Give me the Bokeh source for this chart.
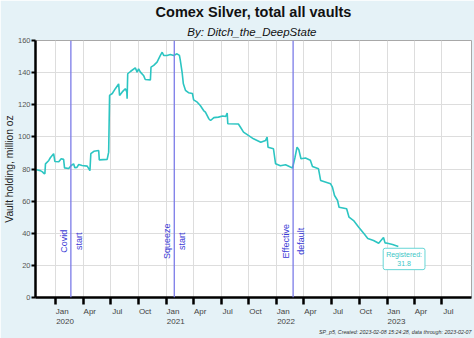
import math
import pandas as pd
from bokeh.plotting import figure
from bokeh.models import (Range1d, FixedTicker, Span, Label, ColumnDataSource, Title,
                          DatetimeAxis)
from bokeh.core.properties import value
from bokeh.embed import file_html
from bokeh.resources import INLINE

# ---------------- data ----------------
dates = [
    "2019-10-29", "2019-11-11", "2019-11-18", "2019-11-23", "2019-11-26", "2019-11-28",
    "2019-12-09", "2019-12-14", "2019-12-25", "2019-12-29", "2020-01-11", "2020-01-19",
    "2020-01-27", "2020-01-30", "2020-02-13", "2020-02-21", "2020-02-29", "2020-03-04",
    "2020-03-11", "2020-03-17", "2020-03-28", "2020-04-14", "2020-04-23", "2020-04-26",
    "2020-05-06", "2020-05-22", "2020-05-24", "2020-06-19", "2020-06-24", "2020-06-27",
    "2020-07-06", "2020-07-16", "2020-07-27", "2020-07-30", "2020-08-08", "2020-08-18",
    "2020-08-23", "2020-08-24", "2020-08-26", "2020-09-04", "2020-09-20", "2020-09-26",
    "2020-10-01", "2020-10-07", "2020-10-18", "2020-10-23", "2020-11-09", "2020-11-11",
    "2020-11-20", "2020-12-01", "2020-12-12", "2020-12-18", "2020-12-23", "2021-01-03",
    "2021-01-14", "2021-01-25", "2021-02-05", "2021-02-13", "2021-02-16", "2021-02-22",
    "2021-02-26", "2021-03-05", "2021-03-15", "2021-03-28", "2021-04-01", "2021-04-13",
    "2021-04-23", "2021-05-04", "2021-05-10", "2021-05-21", "2021-05-27", "2021-06-07",
    "2021-06-22", "2021-07-06", "2021-07-16", "2021-07-21", "2021-07-23", "2021-08-27",
    "2021-09-03", "2021-09-13", "2021-09-29", "2021-10-16", "2021-11-09", "2021-11-25",
    "2021-11-30", "2021-12-03", "2021-12-21", "2021-12-28", "2022-01-13", "2022-01-30",
    "2022-02-15", "2022-02-22", "2022-03-02", "2022-03-09", "2022-03-15", "2022-03-22",
    "2022-04-06", "2022-04-22", "2022-04-29", "2022-05-19", "2022-05-26", "2022-06-28",
    "2022-07-04", "2022-07-11", "2022-07-21", "2022-07-26", "2022-08-20", "2022-08-28",
    "2022-09-12", "2022-09-29", "2022-10-16", "2022-10-29", "2022-11-17", "2022-12-04",
    "2022-12-20", "2022-12-25", "2023-01-02", "2023-01-19", "2023-02-07",
]
values = [
    79.5, 79.0, 78.2, 77.2, 77.0, 83.2,
    85.3, 87.0, 89.5, 84.7, 84.5, 86.4,
    86.0, 80.7, 80.3, 82.2, 83.2, 80.8,
    81.0, 82.8, 82.2, 81.8, 79.0, 89.5,
    91.0, 91.5, 85.7, 86.0, 90.5, 125.8,
    127.0, 130.0, 133.0, 125.8, 128.0, 130.0,
    128.0, 123.7, 139.3, 140.7, 143.0, 140.3,
    142.4, 140.3, 138.0, 135.7, 135.5, 143.4,
    144.5, 146.5, 150.7, 152.7, 150.7, 150.7,
    151.3, 150.7, 151.7, 150.7, 147.6, 140.0,
    133.0, 129.0, 127.5, 127.0, 123.0, 121.6,
    119.5, 116.4, 115.4, 111.3, 110.2, 112.0,
    112.3, 113.0, 112.7, 114.8, 108.2, 108.0,
    106.0, 103.0, 100.9, 98.8, 96.7, 97.8,
    99.8, 93.6, 92.6, 83.2, 82.0, 82.6,
    81.2, 80.6, 87.0, 93.6, 92.0, 86.4,
    86.8, 85.5, 81.5, 80.1, 72.9, 70.8,
    68.7, 63.5, 60.4, 56.2, 55.2, 50.0,
    47.9, 43.8, 39.8, 36.7, 35.5, 33.8,
    37.4, 34.0, 33.8, 33.0, 31.8,
]

tick_dates = [
    "2020-01-01", "2020-04-01", "2020-07-01", "2020-10-01",
    "2021-01-01", "2021-04-01", "2021-07-01", "2021-10-01",
    "2022-01-01", "2022-04-01", "2022-07-01", "2022-10-01",
    "2023-01-01", "2023-04-01", "2023-07-01",
]
tick_labels = [
    "Jan", "Apr", "Jul", "Oct",
    "Jan", "Apr", "Jul", "Oct",
    "Jan", "Apr", "Jul", "Oct",
    "Jan", "Apr", "Jul",
]
year_dates = ["2020-01-01", "2021-01-01", "2022-01-01", "2023-01-01"]
year_labels = ["2020", "2021", "2022", "2023"]
y_ticks = [0, 20, 40, 60, 80, 100, 120, 140, 160]

event_dates = ["2020-02-20", "2021-01-27", "2022-02-24"]
event_left = ["Covid", "Squeeze", "Effective"]
event_right = ["start", "start", "default"]
event_text_y = 35

registered_date = "2023-02-26"
registered_y = 24
registered_text = "Registered:\n31.8"

title_text = "Comex Silver, total all vaults"
subtitle_text = "By:  Ditch_the_DeepState"
footer_text = "SP_p5, Created: 2023-02-08 15:24:28, data through: 2023-02-07"


def ms(d):
    return pd.Timestamp(d).value / 1e6


FONT = "Liberation Sans"
W, H = 474, 338
ML, MR, MT, MB = 35, 3, 40, 41
FW = W - ML - MR
X0, X1 = ms("2019-10-26"), ms("2023-10-07")
PX = (X1 - X0) / FW          # ms per pixel
MONTH_SHIFT = 6.5 * PX       # labels sit just right of their tick
YEAR_SHIFT = 9.3 * PX

p = figure(
    width=W, height=H, title=None,
    x_axis_type="datetime",
    x_range=Range1d(X0, X1),
    y_range=Range1d(0, 160),
    output_backend="svg", toolbar_location=None,
    min_border_left=ML, min_border_right=MR, min_border_top=MT, min_border_bottom=MB,
    background_fill_color="white", border_fill_color="#e5f2f7",
)
p.outline_line_color = "#a8a8a8"
p.outline_line_width = 1

# x axis: minor ticks = real tick marks, major (invisible) ticks carry the month labels
tick_ms = [ms(d) for d in tick_dates]
month_ms = [t + MONTH_SHIFT for t in tick_ms]
p.xaxis.ticker = FixedTicker(ticks=month_ms, minor_ticks=tick_ms)
p.xaxis.major_label_overrides = {m: lab for m, lab in zip(month_ms, tick_labels)}
p.xgrid.ticker = FixedTicker(ticks=tick_ms)
xa = p.xaxis[0]
xa.axis_line_color = "black"
xa.axis_line_width = 2.5
xa.major_tick_line_color = None
xa.major_tick_out = 7
xa.major_tick_in = 0
xa.minor_tick_line_color = "black"
xa.minor_tick_line_width = 2.5
xa.minor_tick_out = 7
xa.minor_tick_in = 0
xa.major_label_standoff = 2
xa.major_label_text_font = FONT
xa.major_label_text_font_size = "8px"
xa.major_label_text_color = "#444444"

# second row: years
year_ms = [ms(d) + YEAR_SHIFT for d in year_dates]
year_axis = DatetimeAxis(
    ticker=FixedTicker(ticks=year_ms),
    major_label_overrides={m: lab for m, lab in zip(year_ms, year_labels)},
    axis_line_color=None, major_tick_line_color=None, minor_tick_line_color=None,
    major_tick_out=0, major_tick_in=0, minor_tick_out=0, minor_tick_in=0,
    major_label_standoff=0, major_label_text_font=FONT,
    major_label_text_font_size="8px", major_label_text_color="#444444",
)
p.add_layout(year_axis, "below")

# y axis
yt = FixedTicker(ticks=y_ticks)
p.yaxis.ticker = yt
p.ygrid.ticker = yt
ya = p.yaxis[0]
ya.axis_line_color = "black"
ya.axis_line_width = 2.5
ya.major_tick_line_color = "black"
ya.major_tick_line_width = 2
ya.major_tick_out = 4
ya.major_tick_in = 0
ya.minor_tick_out = 0
ya.minor_tick_in = 0
ya.major_label_standoff = 1
ya.major_label_text_font_size = "7.5px"
ya.major_label_text_color = "#555555"
ya.major_label_text_font = FONT
ya.axis_label = "Vault holding, million oz"
ya.axis_label_text_font = FONT
ya.axis_label_text_font_style = "normal"
ya.axis_label_text_font_size = "10.3px"
ya.axis_label_text_color = "#222222"
ya.axis_label_standoff = 0

p.xgrid.grid_line_color = "#dddddd"
p.ygrid.grid_line_color = "#dddddd"

# data line
src = ColumnDataSource(dict(date=[pd.Timestamp(d) for d in dates], value=values))
p.line(x="date", y="value", source=src, line_color="#2cc5c2", line_width=1.6)

# event lines and labels
for d in event_dates:
    p.add_layout(Span(location=ms(d), dimension="height",
                      line_color="#7b7be8", line_width=1.3))
ev_x = [ms(d) for d in event_dates]
p.text(x=ev_x, y=[event_text_y] * len(ev_x), text=event_left, angle=math.pi / 2,
       text_align="center", text_baseline="middle", x_offset=-7,
       text_font=value(FONT), text_font_size="9px", text_color="#3a3ad6")
p.text(x=ev_x, y=[event_text_y] * len(ev_x), text=event_right, angle=math.pi / 2,
       text_align="center", text_baseline="middle", x_offset=8,
       text_font=value(FONT), text_font_size="9px", text_color="#3a3ad6")

# registered box
p.add_layout(Label(
    x=ms(registered_date), y=registered_y, text=registered_text,
    text_align="center", text_baseline="middle",
    text_font=FONT, text_font_size="7px", text_color="#3cc6c6",
    background_fill_color="white", border_line_color="#66d6d6", border_line_width=1,
    padding=3, border_radius=2,
))

# titles and footer
p.add_layout(Title(text=subtitle_text, align="center", text_font=FONT,
                   text_font_size="11.5px", text_font_style="italic",
                   text_color="#111111", standoff=6), "above")
p.add_layout(Title(text=title_text, align="center", text_font=FONT,
                   text_font_size="14.5px", text_font_style="bold",
                   text_color="#111111", standoff=2), "above")
p.add_layout(Title(text=footer_text, align="right", text_font=FONT,
                   text_font_size="5.3px", text_font_style="italic",
                   text_color="#333333", standoff=0), "below")

open("out.html", "w").write(file_html(p, INLINE))
